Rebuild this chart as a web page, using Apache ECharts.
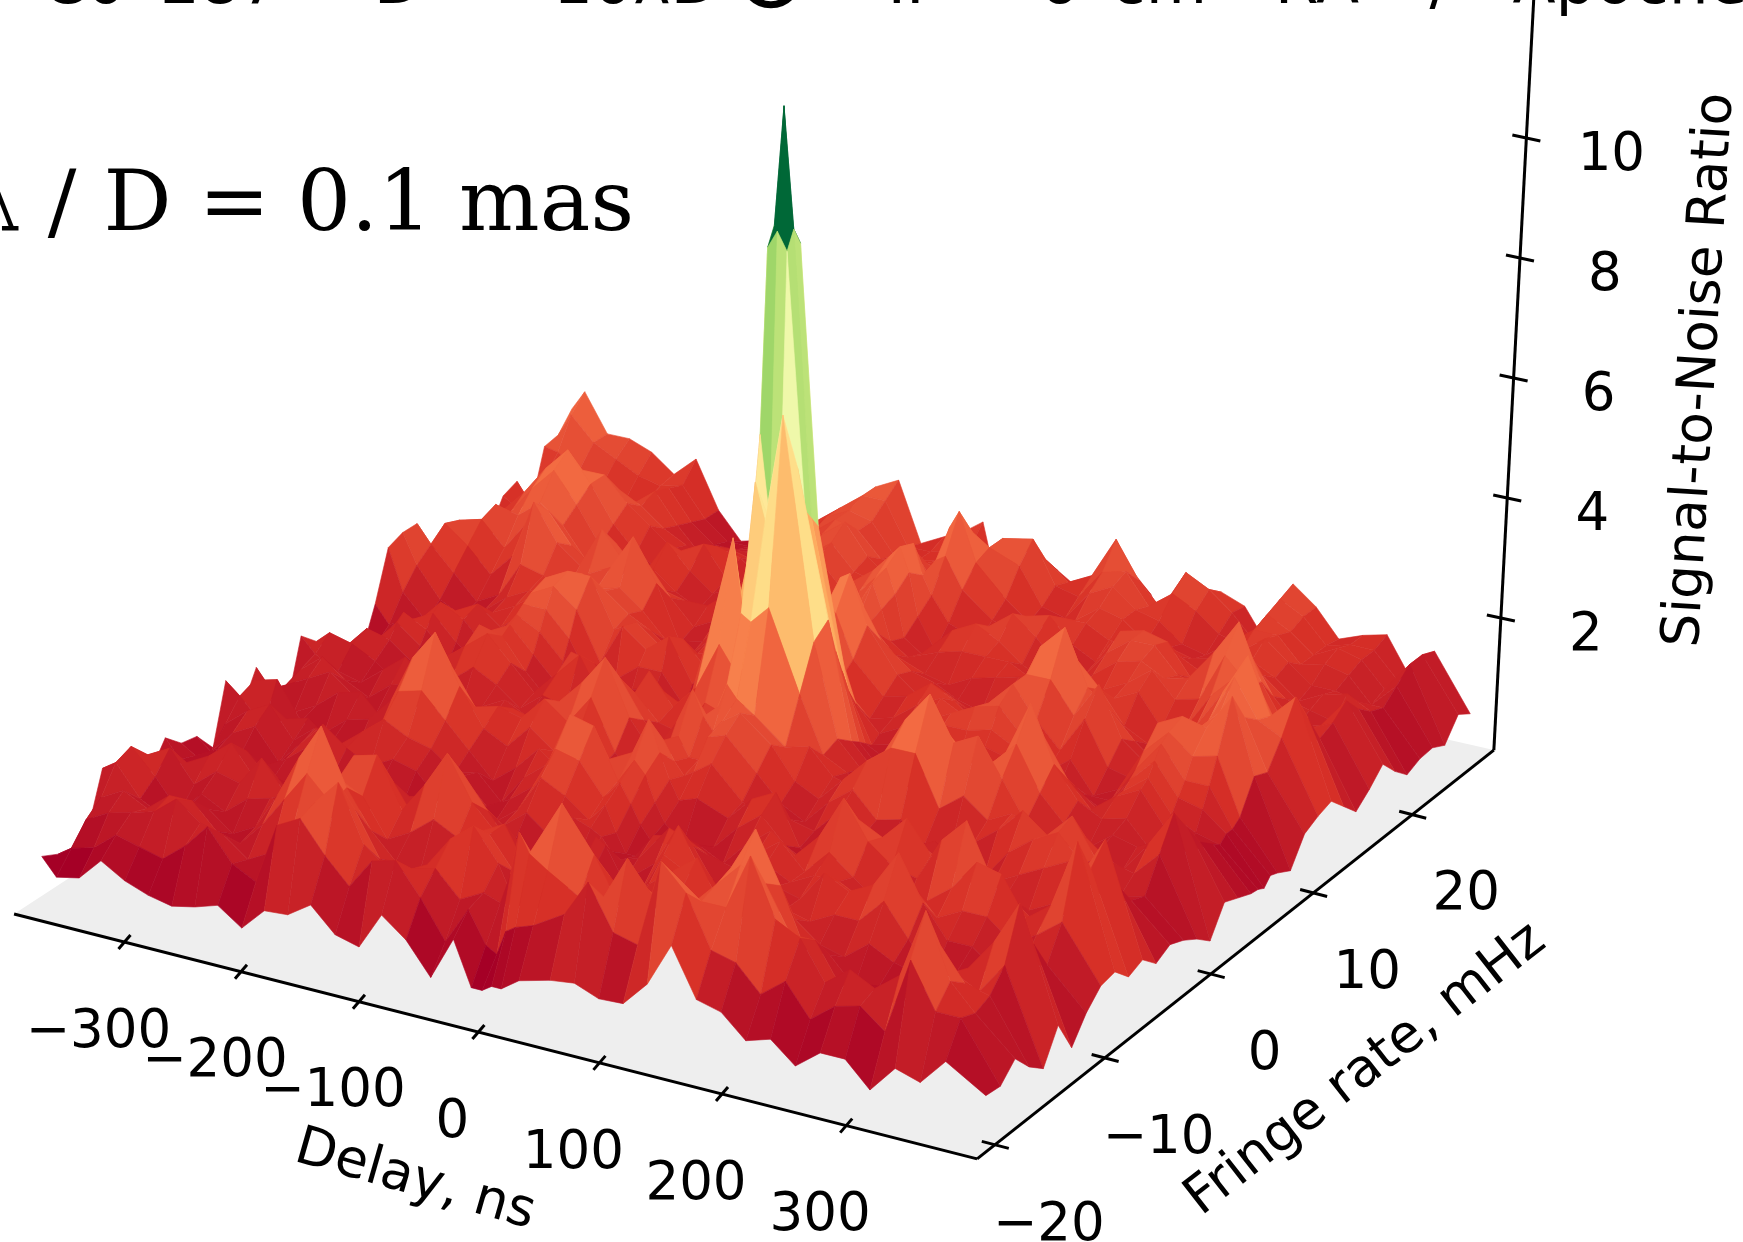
<!DOCTYPE html>
<html><head><meta charset="utf-8"><style>html,body{margin:0;padding:0;background:#fff}#c{width:1743px;height:1242px}</style>
<script src="https://cdn.jsdelivr.net/npm/echarts@6/dist/echarts.min.js"></script></head><body><div id="c"></div>
<script>
const delays=[-392,-380,-360,-340,-320,-300,-280,-260,-240,-220,-200,-180,-160,-140,-120,-100,-80,-60,-40,-26,-17,-9,-1,14,40,60,80,100,120,140,160,180,200,220,240,260,280,300,320,340,360,392];
const rates=[-19.5,-18.2,-16.9,-15.6,-14.3,-13,-11.7,-10.4,-9.1,-7.8,-6.5,-5.2,-3.9,-2.6,-1.3,0,1.3,2.6,3.9,5.2,5.9,6.5,7.1,7.8,9.1,10.4,11.7,13,14.3,15.6,16.9,18.2,19.5,20.8,22.1,23.4,24.7,26,27.3];
const snr=[
[.48,.2,.28,.65,.42,.28,.2,.28,.4,.13,.5,.53,.78,.4,.3,.9,.6,.1,.8,.1,.1,.2,.2,.4,.53,.58,.43,.45,.85,1.55,.8,.7,.35,.47,.15,.45,.45,.07,.5,.38,.8,.43],
[.35,.5,.6,.9,.8,.7,1,1.4,.9,.7,1.7,1.9,1.4,1,1.5,1.6,1.1,.5,1.1,.6,.5,.9,1,1.1,1.4,2,1.3,1.2,2.6,2.2,1.4,1.3,.9,1.2,.7,1,1.1,.8,2,1.3,1.3,.4],
[.3,.8,1,1.1,1.2,1.5,1.2,1.1,.8,1,1.5,2,2.4,1.5,1.2,1.3,1.4,1,1.2,1.1,1.6,2.3,2,1.8,1.5,1.6,2.3,1.8,2.2,1.9,1.9,2.8,1.9,1.7,1.1,1.4,1.2,1.5,2.6,1.6,1.2,.65],
[.5,1,1.2,1,1.3,1.3,.9,.8,1.2,1.7,2.2,1.8,1.8,1.1,1,1.2,1.7,2,1.5,.9,1.3,1.7,2.2,2.7,2,1.3,1.7,1.5,1.6,2,2.4,2.2,1.5,1.5,.9,1,.8,1.3,1.9,1.4,1.3,.35],
[1.25,1.4,.9,.7,.9,1,.7,.9,1.5,2.2,2.8,1.9,1.3,.9,.8,.9,1.4,1.7,1.2,.7,1,1.3,1.8,2,1.5,1.1,1.2,1.6,1.3,2.1,2.8,2,1.1,1.1,.7,.8,.7,1,1.3,1.1,1.6,.15],
[1.18,1.5,1.1,.6,1,.8,1.1,1.2,1.2,1.5,1.8,1.6,1,1.2,1.5,1.3,1.5,1.7,1,.5,.7,.9,1.2,1.3,1,1.3,1.6,1.9,1.2,1.4,1.9,1.3,1,.9,1.2,1,.9,1,1.2,1.7,2.4,.65],
[1.05,1.2,1.4,.9,1.2,1.1,1.6,1.1,.8,1.2,2,2.1,1.3,1.8,2.4,1.7,1.3,1.2,.8,.6,.9,1.1,1,.9,.9,1.6,1.4,1.4,.9,1,1.2,1.1,1.3,1.3,1.7,1.2,.7,.9,1,1.3,1.6,.13],
[.72,.9,1,1.2,1.5,1,1.1,.7,.6,.9,1.3,1.5,.9,1.5,1.9,1.4,.9,.8,1.1,.9,1,1.4,1.3,.8,1.2,1.9,1.2,.9,.8,1.3,1.2,1.7,1.5,1.7,2.3,1.6,1.1,1.1,.8,1,1.1,.5],
[1.1,.8,.7,1,1.2,.8,.8,1,.9,.7,.9,1.1,1.2,1.1,1.3,1,1.3,1,1.4,1.3,1.2,1,.9,1,1.6,1.4,.8,1.1,1.4,1.2,1.4,1.4,1.2,1.2,1.6,1.2,1.4,1.4,1.1,1.3,1.6,.75],
[.85,.7,.9,.9,.8,1,1.3,.9,.8,.9,.7,.9,1.5,1,.8,1.1,1.7,1.5,1.2,1.5,1.1,.8,.8,1.2,1.3,1.1,1,1.3,1.6,1.2,1.6,1.3,1,.9,1.2,1.5,2,1.9,1.3,1.6,2.7,.8],
[.8,.6,1,1.2,.7,1.1,1.5,1.2,1,1.2,1.1,.7,1.2,.8,1,1.3,2,1.9,1.4,1.7,1.4,1.1,.9,.9,1,.8,1.2,1.5,1.2,1.6,2.3,1.7,1.4,1.3,2,2.4,1.6,1.3,1,1.3,2.1,.55],
[.45,.9,1.2,1.4,.9,1.2,1,1.3,1.6,1.4,1.3,1,1.1,.7,1.2,1.5,2.4,2.3,1.5,1.9,1.7,1.3,1,.7,.8,1.2,1.5,1.1,.9,1.4,1.8,1.6,2,1.5,1.5,1.6,1.1,1,1.2,1.7,2.4,.65],
[1.4,1.2,.8,1,1.1,.8,.7,1.1,1.9,2,1.6,1.2,.8,1.1,1.5,1.2,1.7,1.6,1.8,2.4,1.9,1.5,1.2,1.3,1.1,1.5,1.7,.9,.7,1,1.2,1.3,1.4,1.2,1,1.1,1.3,1.5,1.7,1.4,1.5,.42],
[.8,1.3,1.4,.8,.7,1,1.1,1.5,2.3,2.8,2,1.4,1.2,1.6,1.3,1.6,1.2,1,1.5,1.9,1.6,1.4,1.5,1.7,1.2,1,1.1,1,1.4,1.1,.8,1.1,1.3,1,.9,1.4,1.7,1.9,1.5,1,1.1,.55],
[1.3,1,.7,.9,1.2,1.3,.9,1.2,1.7,2.1,1.5,1.6,1.5,1.9,1.6,2.1,1.3,.8,1.3,1.8,1.5,1.5,1.9,2,1.5,1.1,.9,1.3,1.6,1.2,1.3,1,.9,1.2,1.5,1.9,1.6,2,1.4,.9,1,.45],
[.55,.9,1.1,1.3,1,.8,1,1.1,1.2,1.3,1.1,1.4,1.3,1.7,2.1,2.6,1.7,1.2,1.8,2.4,2,1.8,2,2.2,1.8,1.3,1.1,1.5,1.9,2.2,2.2,1.4,1.7,1.4,1.6,1.4,1.3,1.5,1.2,1.1,1.5,.3],
[.45,1,1.3,1,.8,1.1,1.2,.9,.9,1.1,1.3,1.1,.9,1.2,1.6,2.1,1.5,1,1.4,1.8,2,2.4,2.2,2,1.6,1.7,1.3,1.2,1.8,2.5,3,2.3,2.5,1.9,1.3,1,1.1,1.1,.9,1.4,2,.1],
[1.35,1.1,.9,.8,1.1,1.4,1,1.2,1.5,1.3,1,1.3,1.2,.8,1.2,1.7,1.3,1.2,1.8,1.7,2.4,3.4,3.3,3.6,2.3,1.4,1.2,.9,1.3,1.9,2.3,1.9,1.9,2.3,1.6,1.2,.9,1.2,1.1,1.3,1.6,.55],
[1.1,1.3,1.2,1,.7,1,1.3,1.6,1.9,1.5,1.1,1.5,1.9,1.2,1,1.9,1.4,1.8,2.6,2.2,3.6,5.4,4.8,6.6,3,1.5,1.1,.8,1,1.4,1.8,1.5,1.9,2.8,1.9,1.4,1.2,1.3,.9,1,1.2,.45],
[.8,.9,1.3,1.2,.9,.7,1.1,1.8,1.7,1.2,.8,1.7,1.6,1,.9,1.4,1.2,2.6,4.2,2.2,6,4.6,4.4,5.6,3.2,1.3,.9,1,1.2,1.1,1.5,1.3,1.5,2.1,1.5,1.1,1.4,1.6,1.1,.8,1,.35],
[.5,.7,1,1.4,1.1,.8,.9,1.6,1.8,1.4,1,1.3,1.4,.9,1,1.2,1.1,2.2,3.2,4.6,9,9.3,9,4.8,2.6,1.2,.8,1.1,1.3,1.2,1.4,1.2,1.2,1.6,1.3,1,1.4,1.7,1.2,1,.9,.33],
[.3,.6,.9,1.5,1.3,.9,.8,1.4,1.9,1.7,1.3,1,1.2,1.1,1.2,1,.9,1.6,2.6,4.4,9.3,11.3,9.3,4.6,2.2,1.1,.9,1.2,1.5,1.3,1.5,1.4,1,1.3,1.1,.9,1.5,1.9,1.4,1.3,1,.27],
[.27,.5,1,1.3,1.5,1.1,.8,1.2,2,2,1.6,.9,1.1,1.4,1.4,.9,.8,1.2,2,4.2,9,9.3,9,4.4,1.8,1,1.1,1.3,1.6,1.6,1.7,1.5,1,1.2,1,1,1.6,2.1,1.6,1.6,1,.4],
[.45,.6,1.1,1.2,1.6,1.4,1,1.3,2.1,2.3,2,1.2,1.9,1.6,1.9,1.2,.9,1,1.5,3.2,4.6,5,4.4,3,1.5,1.1,1.3,1.5,1.7,1.9,2,1.6,1.1,1.4,.9,1.1,1.8,2.2,1.9,2,1.1,.35],
[1.1,.8,1,1,1.3,1.5,1.2,1.5,2.2,2.4,2.4,1.6,1.8,1.5,1.7,1.3,1,.9,1.1,1.5,1.7,2.1,2,1.6,1.1,1.2,1.5,1.7,1.5,1.8,2.2,1.7,1.3,1.9,1.2,1.1,2.1,2.3,2.2,2.8,1.6,.22],
[1.9,1.2,.8,.9,1.1,1.2,1.4,1.7,2,2.2,2,1.7,1.5,1.2,1.3,1.4,1.2,.9,.9,1,1.9,2.6,2.5,1.8,1.3,1.4,1.7,1.5,1.2,1.7,2.2,2.2,1.7,2.3,1.5,1.2,1.7,1.9,2.3,2.3,1.5,.65],
[2,1.5,1,.8,1,1.3,1.5,1.6,1.7,1.8,1.9,1.6,1.2,1,1.4,1.6,1.4,1.1,1,1.1,2.3,2.9,3,2.2,1.5,1.2,1.4,1.2,1.1,1.6,2.5,2.9,2,1.7,1.3,1,1.4,1.9,2.7,2.1,1.9,.77],
[2,1.7,1.3,.9,1.1,1.7,1.6,1.4,1.8,2,2.6,1.9,1,1.1,1.6,1.9,1.6,1.2,1.3,1.4,1.8,2.2,2.3,1.8,1.4,1.3,1.1,1,1.3,1.5,2,2.2,1.8,1.3,1.1,1.1,1.6,2.2,2.9,2,2.4,.85],
[1.45,1.9,1.6,1.2,1.6,2.6,2,1.7,2.4,1.9,2,1.5,1.1,1.3,1.8,2.1,1.8,1.5,1.5,1.8,1.9,1.8,1.7,1.4,1.2,1.1,1.3,1.4,1.5,1.3,1.5,1.6,1.5,1.7,1.2,1.3,1.9,2.3,2.2,1.5,1.9,.6],
[1.1,1.8,1.9,1.5,2,2.3,1.8,1.5,2,1.6,1.4,1.3,1.3,1.6,1.9,1.7,1.3,1.3,1.6,2,2.3,1.9,1.4,1.2,1.4,1.5,1.5,1.5,1.3,1.1,1.3,1.4,1.6,1.9,1.5,1.6,2.4,2,1.5,1.2,1.4,.35],
[.55,1.4,2,1.9,2.2,1.9,1.4,1.3,1.4,1.5,1.2,1,1.2,1.4,1.6,1.4,1.2,1.5,1.9,2.2,2.4,2,1.3,1.1,1.6,1.8,1.6,1.3,1.1,1.2,1.4,1.7,1.8,1.6,1.7,2.2,2.8,1.9,1.3,1.3,1.5,.55],
[.7,1.2,1.7,2.2,2.6,2.1,1.5,1.1,1.2,1.8,1.4,1.1,1.3,1.6,1.5,1.5,1.4,1.8,2.1,2.4,2.6,2.2,1.5,1,1.3,1.6,1.9,1.6,1.2,1.1,1.6,1.9,1.9,1.5,1.4,1.8,2.1,1.5,1.1,1.2,1.7,.8],
[1.1,1.5,1.9,2.4,2.8,2.3,1.7,1.3,1.1,1.5,1.7,1.2,1.2,1.3,1.6,1.9,1.5,1.6,1.9,2.2,2.5,2,1.7,1.3,1.1,1.5,1.7,1.8,1.4,1.2,1.8,1.9,1.8,1.3,1.1,1.3,1.6,1.3,1.2,1.1,1.4,.52],
[1.55,1.4,1.7,2,2.3,2.3,1.9,1.6,1.3,1.2,1.5,1.4,1.1,1.2,1.7,2,1.6,1.5,1.7,1.9,1.8,2.1,2.2,1.7,1.3,1.2,1.4,1.6,1.6,1.4,1.5,1.6,1.4,1.2,1.3,1.6,1.4,1.1,1.3,1.4,1.2,.3],
[1.65,1.3,1.5,1.8,1.9,1.9,1.7,1.4,1.2,1.1,1.3,1.2,1,1.4,1.9,2.2,1.7,1.4,2,1.6,1.9,2.5,2.8,2,1.5,1.2,1.2,1.4,1.7,1.6,1.3,1.3,1.2,1.3,1.5,1.8,1.5,1.2,1.2,1.1,1.1,.4],
[1.1,1.6,1.4,1.6,1.7,1.5,1.8,1.3,.9,1.1,1.1,1,1.3,1.7,2,1.9,1.5,1.5,1.6,1.5,1.8,2.2,2.3,2.1,1.9,1.3,1.2,1.7,1.9,1.6,1.5,1.2,1.1,1.4,1.7,1.7,1.3,1.4,1.3,.9,1.3,.42],
[1.95,1.9,1.7,1.5,1.3,1.4,1.7,1.2,.9,.9,1,1.1,1.4,1.8,2,1.9,1.4,1.4,1.5,1.6,1.5,1.7,1.8,2.1,2.2,1.5,1.4,1.9,2,1.5,1.8,1.6,1.3,1.2,1.8,1.6,1.3,1.5,1.4,1,1.5,.3],
[2,2.4,2,1.8,1.6,1.5,1.6,1.1,.8,.8,.9,1,1.5,1.8,2.1,2.1,1.4,1.4,1.5,1.6,1.2,1,1.3,1.8,1.7,1.4,1.6,2.3,1.7,1.3,2,1.8,1.5,1.1,1.9,1.7,1.3,1.4,1.4,1,1.5,.65],
[2.3,2.65,2,2,1.85,1.55,1.9,1.1,.65,.75,1,.9,.8,1.7,2.1,2.3,1.3,1.5,1.7,1.9,1.2,.65,1.1,1.65,1.35,1.1,1.25,1.7,1.3,.65,1.6,1.6,1.45,.9,2,1.7,1.25,1.4,1.5,.9,1.4,.5]
];
const delayTicks=[-300,-200,-100,0,100,200,300];
const rateTicks=[-20,-10,0,10,20];
const snrTicks=[2,4,6,8,10];
const titleWords=[["C0",84],["287",220],["D",398],["10λD",636],["II",906],["6",1059],["cm",1159],["RA",1317],["/",1440],["Apoche",1630]];
const COLORS=[[165,0,38],[215,48,39],[244,109,67],[253,174,97],[254,224,139],[255,255,191],[217,239,139],[166,217,106],[102,189,99],[26,152,80],[0,104,55]];
const Z0=-0.2,VMIN=0.4,VMAX=11,KNEE=5.5,TOP=9.4;
function uOf(d){return (d+396)/800}
function vOf(r){return 0.0316+(r+20)*0.01996}
function project(d,r,z){
  const u=uOf(d),v=vOf(r),w=1-0.05*u+0.085*v;
  const gx=(914.2*u+618.1*v+14)/w, gy=(187*u-324.8*v+914)/w;
  const dy=(z-Z0)*62.1/w;
  return [gx+dy*(gx-790)/(14000-gy), gy-dy];
}
function level(z){
  const tk=(KNEE-VMIN)/(VMAX-VMIN);
  return z<=KNEE?(z-VMIN)/(VMAX-VMIN):tk+(z-KNEE)/(TOP-KNEE)*(1-tk);
}
function cmap(t){
  t=Math.max(0,Math.min(1,t))*10;const a=Math.min(9,Math.floor(t)),f=t-a,A=COLORS[a],B=COLORS[a+1];
  return 'rgb('+[0,1,2].map(k=>Math.round(A[k]+(B[k]-A[k])*f)).join(',')+')';
}
const cells=[];
for(let j=rates.length-2;j>=0;j--)for(let i=0;i<delays.length-1;i++)cells.push([i,j]);
const dMin=-396,dMax=404,rMin=-21.58,rMax=28.5;
const c=echarts.init(document.getElementById('c'),null,{renderer:'canvas'});
const axisSegments=[
 [project(dMin,rMin,Z0),project(dMax,rMin,Z0)],
 [project(dMax,rMin,Z0),project(dMax,rMax,Z0)],
 [project(dMax,rMax,Z0),project(dMax,rMax,12.6)]
];
delayTicks.forEach(t=>{const p=project(t,rMin,Z0);axisSegments.push([[p[0]-6,p[1]+7],[p[0]+6,p[1]-7]])});
rateTicks.forEach(t=>{const p=project(dMax,t,Z0);axisSegments.push([[p[0]-13,p[1]-3.5],[p[0]+14,p[1]+3.5]])});
snrTicks.forEach(t=>{const p=project(dMax,rMax,t);axisSegments.push([[p[0]-14,p[1]-3],[p[0]+14,p[1]+3]])});
const txt=(text,x,y,size,opt)=>Object.assign({type:'text',x,y,silent:true,style:{text,x:0,y:0,fill:'#000',font:size+'px "DejaVu Sans"',textAlign:'center',textVerticalAlign:'middle'}},opt||{});
const labels=[];
delayTicks.forEach(t=>{const p=project(t,rMin,Z0);labels.push(txt(String(t).replace('-','−'),p[0]-26,p[1]+91,53))});
rateTicks.forEach(t=>{const p=project(dMax,t,Z0);labels.push(txt(String(t).replace('-','−'),p[0]+54,p[1]+81,53))});
snrTicks.forEach(t=>{const p=project(dMax,rMax,t);labels.push(txt(String(t),p[0]+85,p[1]+18,53))});
labels.push(txt('Delay, ns',415,1181,53,{rotation:-16*Math.PI/180}));
labels.push(txt('Fringe rate, mHz',1366,1070,53,{rotation:38*Math.PI/180}));
labels.push(txt('Signal-to-Noise Ratio',1701,370,53,{rotation:86.5*Math.PI/180}));
const lam=txt('λ / D = 0.1 mas',634,228,85);lam.style.font='85px "DejaVu Serif"';lam.style.textAlign='right';lam.style.textVerticalAlign='bottom';lam.y=250;labels.push(lam);
titleWords.forEach(w=>{const t=txt(w[0],w[1],4,63);t.style.textVerticalAlign='bottom';t.y=18;labels.push(t)});
const op=txt('⊕',771,30,97);op.style.textVerticalAlign='bottom';labels.push(op);
c.setOption({
 animation:false,
 grid:{left:0,right:0,top:0,bottom:0},
 xAxis:{type:'value',min:0,max:1743,show:false},
 yAxis:{type:'value',min:0,max:1242,inverse:true,show:false},
 graphic:{elements:labels},
 series:[
  {type:'custom',name:'floor',coordinateSystem:'cartesian2d',silent:true,clip:false,data:[[0,0]],z:1,
   renderItem:(p,api)=>({type:'polygon',shape:{points:[[dMin,rMin],[dMax,rMin],[dMax,rMax],[dMin,rMax]].map(a=>api.coord(project(a[0],a[1],Z0)))},style:{fill:'#eeeeee'}})},
  {type:'custom',name:'SNR',coordinateSystem:'cartesian2d',silent:true,clip:false,progressive:0,z:2,data:cells,encode:{x:0,y:1},
   renderItem:(p,api)=>{
     const i=api.value(0),j=api.value(1);
     const q=[[i,j],[i+1,j],[i+1,j+1],[i,j+1]];
     let s=0;const pts=q.map(a=>{const z=snr[a[1]][a[0]];s+=z;return api.coord(project(delays[a[0]],rates[a[1]],z))});
     const col=cmap(level(s/4));
     return {type:'polygon',shape:{points:pts},style:{fill:col,stroke:col,lineWidth:0.6}};
   }},
  {type:'custom',name:'axes',coordinateSystem:'cartesian2d',silent:true,clip:false,z:3,data:axisSegments.map((s,k)=>[k,k]),encode:{x:0,y:1},
   renderItem:(p,api)=>{const s=axisSegments[api.value(0)],a=api.coord(s[0]),b=api.coord(s[1]);
     return {type:'line',shape:{x1:a[0],y1:a[1],x2:b[0],y2:b[1]},style:{stroke:'#000',lineWidth:3}}}}
 ]
});
</script></body></html>
